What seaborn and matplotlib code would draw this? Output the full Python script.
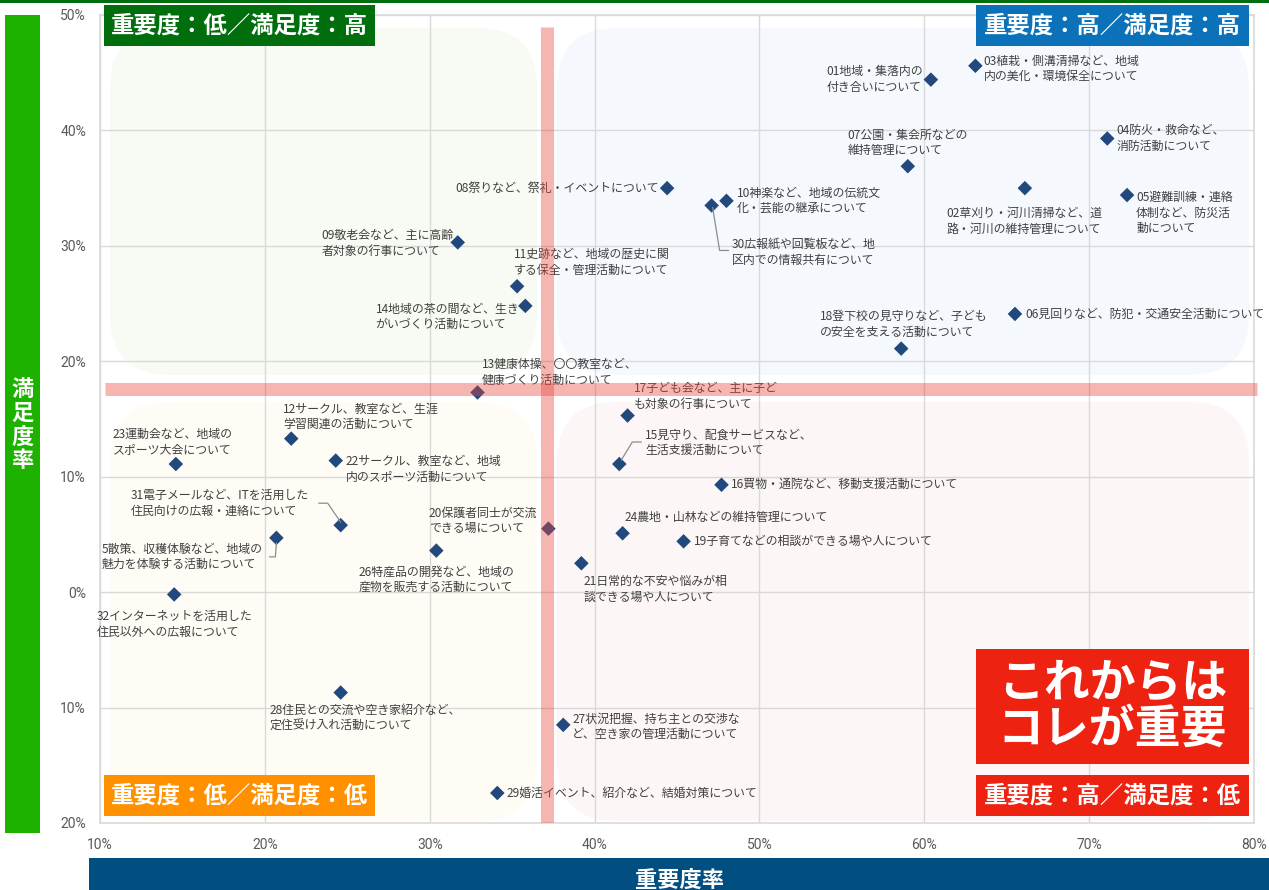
import matplotlib
matplotlib.use("Agg")
import matplotlib.pyplot as plt
import matplotlib.patches as mpatches
import matplotlib.transforms as mtransforms
from matplotlib.lines import Line2D
from matplotlib.ticker import FuncFormatter
import seaborn as sns
import pandas as pd

# ---- data: importance rate (x) and satisfaction rate (y), in percent ----
ids = ["01", "02", "03", "04", "05", "06", "07", "08", "09", "10",
       "11", "12", "13", "14", "15", "16", "17", "18", "19", "20",
       "21", "22", "23", "24", "5", "26", "27", "28", "29", "30",
       "31", "32"]

labels = [
    "01地域・集落内の\n付き合いについて",
    "02草刈り・河川清掃など、道\n路・河川の維持管理について",
    "03植栽・側溝清掃など、地域\n内の美化・環境保全について",
    "04防火・救命など、\n消防活動について",
    "05避難訓練・連絡\n体制など、防災活\n動について",
    "06見回りなど、防犯・交通安全活動について",
    "07公園・集会所などの\n維持管理について",
    "08祭りなど、祭礼・イベントについて",
    "09敬老会など、主に高齢\n者対象の行事について",
    "10神楽など、地域の伝統文\n化・芸能の継承について",
    "11史跡など、地域の歴史に関\nする保全・管理活動について",
    "12サークル、教室など、生涯\n学習関連の活動について",
    "13健康体操、〇〇教室など、\n健康づくり活動について",
    "14地域の茶の間など、生き\nがいづくり活動について",
    "15見守り、配食サービスなど、\n生活支援活動について",
    "16買物・通院など、移動支援活動について",
    "17子ども会など、主に子ど\nも対象の行事について",
    "18登下校の見守りなど、子ども\nの安全を支える活動について",
    "19子育てなどの相談ができる場や人について",
    "20保護者同士が交流\nできる場について",
    "21日常的な不安や悩みが相\n談できる場や人について",
    "22サークル、教室など、地域\n内のスポーツ活動について",
    "23運動会など、地域の\nスポーツ大会について",
    "24農地・山林などの維持管理について",
    "5散策、収穫体験など、地域の\n魅力を体験する活動について",
    "26特産品の開発など、地域の\n産物を販売する活動について",
    "27状況把握、持ち主との交渉な\nど、空き家の管理活動について",
    "28住民との交流や空き家紹介など、\n定住受け入れ活動について",
    "29婚活イベント、紹介など、結婚対策について",
    "30広報紙や回覧板など、地\n区内での情報共有について",
    "31電子メールなど、ITを活用した\n住民向けの広報・連絡について",
    "32インターネットを活用した\n住民以外への広報について",
]

importance = [60.4, 66.1, 63.1, 71.1, 72.3, 65.5, 59.0, 44.4, 31.7, 48.0,
              35.3, 21.6, 32.9, 35.8, 41.5, 47.7, 42.0, 58.6, 45.4, 37.2,
              39.2, 24.3, 14.6, 41.7, 20.7, 30.4, 38.1, 24.6, 34.1, 47.1,
              24.6, 14.5]

satisfaction = [44.4, 35.0, 45.6, 39.3, 34.4, 24.1, 36.9, 35.0, 30.3, 33.9,
                26.5, 13.3, 17.3, 24.8, 11.1, 9.3, 15.3, 21.1, 4.4, 5.5,
                2.5, 11.4, 11.1, 5.1, 4.7, 3.6, -11.5, -8.7, -17.4, 33.5,
                5.8, -0.2]

avg_importance = 37.1
avg_satisfaction = 17.6

x_ticks = [10, 20, 30, 40, 50, 60, 70, 80]
y_ticks = [-20, -10, 0, 10, 20, 30, 40, 50]

quadrant_titles = ["重要度：低／満足度：高", "重要度：高／満足度：高",
                   "重要度：低／満足度：低", "重要度：高／満足度：低"]
callout_text = "これからは\nコレが重要"
x_title = "重要度率"
y_title = "満足度率"

# ---- label layout: (offset x px, offset y px, horizontal alignment) ----
label_layout = {
    "01": (-8, 0, "right"), "02": (0, -33, "center"), "03": (8, -3, "left"),
    "04": (9, 0, "left"), "05": (9, -18, "left"), "06": (10, 0, "left"),
    "07": (-60, 23, "left"), "08": (-8, 0, "right"), "09": (-4, -1, "right"),
    "10": (10, 0, "left"), "11": (-3, 24, "left"), "12": (-8, 22, "left"),
    "13": (4, 20, "left"), "14": (-6, -11, "right"), "15": (26, 21, "left"),
    "16": (9, 0, "left"), "17": (6, 19, "left"), "18": (3, 24, "center"),
    "19": (10, 0, "left"), "20": (-11, 8, "right"), "21": (2, -26, "left"),
    "22": (10, -9, "left"), "23": (-3, 22, "center"), "24": (2, 16, "left"),
    "5": (-14, -19, "right"), "26": (0, -29, "center"), "27": (9, -2, "left"),
    "28": (-71, -26, "left"), "29": (9, 0, "left"), "30": (20, -47, "left"),
    "31": (-32, 22, "right"), "32": (0, -30, "center"),
}
# leader lines, vertices as pixel offsets from the marker
leaders = {
    "30": [(1, -2), (8, -45), (17, -45)],
    "15": [(2, 4), (13, 22), (22, 22)],
    "31": [(-22, 22), (-13, 22), (0, 3)],
    "5": [(-7, -19), (-1, -19), (0, -5)],
}

W, H = 1269, 890
sns.set_theme(style="white")
plt.rcParams["font.family"] = ["Noto Sans CJK JP", "DejaVu Sans"]

fig = plt.figure(figsize=(W / 100, H / 100), dpi=100)
fig.patch.set_facecolor("white")


def fbox(x0, y0, x1, y1):
    """pixel box (top-left origin) -> figure-fraction (x, y, w, h)"""
    return x0 / W, 1 - y1 / H, (x1 - x0) / W, (y1 - y0) / H


ax = fig.add_axes(fbox(100, 15, 1254, 823))
ax.set_xlim(10, 80)
ax.set_ylim(-20, 50)

df = pd.DataFrame({"id": ids, "label": labels,
                   "importance": importance, "satisfaction": satisfaction})

# soft rounded quadrant backgrounds (pixel space)
quad_bg = [((110, 28, 537, 375), "#f7fbf4"), ((557, 28, 1249, 375), "#f5f9fe"),
           ((110, 402, 537, 821), "#fffcf6"), ((557, 402, 1249, 821), "#fdf6f6")]
for (x0, y0, x1, y1), col in quad_bg:
    p = mpatches.FancyBboxPatch((x0, H - y1), x1 - x0, y1 - y0,
                                boxstyle="round,pad=0,rounding_size=60",
                                transform=mtransforms.IdentityTransform(),
                                facecolor=col, edgecolor="none", zorder=0.1)
    ax.add_patch(p)

sns.scatterplot(data=df, x="importance", y="satisfaction", marker="D",
                s=55, color="#22497d", edgecolor="none", ax=ax, zorder=3,
                legend=False)

ax.set_axisbelow(True)
ax.grid(True, color="#d9d9d9", linewidth=1.0)
for s in ax.spines.values():
    s.set_color("#d9d9d9")
    s.set_linewidth(1.2)
ax.set_xlim(10, 80)
ax.set_ylim(-20, 50)
ax.set_xticks(x_ticks)
ax.set_yticks(y_ticks)
fmt = FuncFormatter(lambda v, _: f"{abs(v):.0f}%")
ax.xaxis.set_major_formatter(fmt)
ax.yaxis.set_major_formatter(fmt)
ax.tick_params(axis="both", length=0, labelsize=10, labelcolor="#595959")
ax.tick_params(axis="x", pad=11)
ax.tick_params(axis="y", pad=10)
for t in ax.get_xticklabels() + ax.get_yticklabels():
    t.set_family(["Roboto", "DejaVu Sans"])
ax.set_xlabel("")
ax.set_ylabel("")

for i, lab, xv, yv in zip(ids, labels, importance, satisfaction):
    dx, dy, ha = label_layout[i]
    ax.annotate(lab, (xv, yv), xytext=(dx, dy), textcoords="offset pixels",
                ha=ha, va="center", multialignment="left", fontsize=8.6,
                color="#404040", linespacing=1.25, zorder=4,
                annotation_clip=False)
    if i in leaders:
        bx, by = ax.transData.transform((xv, yv))
        xs = [bx + ox for ox, oy in leaders[i]]
        ys = [by + oy for ox, oy in leaders[i]]
        ax.add_line(Line2D(xs, ys, transform=mtransforms.IdentityTransform(),
                           color="#8c8c8c", linewidth=0.9, zorder=3))

# average lines drawn as translucent red bands over the marks
ax.plot([avg_importance, avg_importance], [-20, 49.0], color="#e8463c",
        alpha=0.4, linewidth=9.4, solid_capstyle="butt", zorder=5)
ax.plot([10.3, 80.2], [avg_satisfaction, avg_satisfaction], color="#e8463c",
        alpha=0.4, linewidth=9.4, solid_capstyle="butt", zorder=5,
        clip_on=False)

# quadrant title boxes
title_boxes = [((104, 5, 375, 46), "#006e0c"), ((976, 5, 1249, 46), "#0b72b9"),
               ((104, 775, 375, 816), "#ff9100"), ((976, 775, 1249, 816), "#ee2211")]
for title, ((x0, y0, x1, y1), col) in zip(quadrant_titles, title_boxes):
    fig.add_artist(mpatches.Rectangle(fbox(x0, y0, x1, y1)[:2],
                                      (x1 - x0) / W, (y1 - y0) / H,
                                      transform=fig.transFigure,
                                      facecolor=col, edgecolor="none", zorder=6))
    fig.text((x0 + x1) / 2 / W, 1 - (y0 + y1) / 2 / H, title, color="white",
             fontsize=16.8, fontweight="bold", ha="center", va="center", zorder=7)

# call-out box
x0, y0, x1, y1 = 976, 649, 1249, 764
fig.add_artist(mpatches.Rectangle(fbox(x0, y0, x1, y1)[:2], (x1 - x0) / W,
                                  (y1 - y0) / H, transform=fig.transFigure,
                                  facecolor="#ee2211", edgecolor="none", zorder=6))
fig.text((x0 + x1) / 2 / W, 1 - (y0 + y1) / 2 / H, callout_text, color="white",
         fontsize=33, fontweight="bold", ha="center", va="center",
         linespacing=1.0, zorder=7)

# frame bars and axis titles
fig.add_artist(mpatches.Rectangle((0, 1 - 3 / H), 1, 3 / H, transform=fig.transFigure,
                                  facecolor="#006e0c", edgecolor="none"))
fig.add_artist(mpatches.Rectangle(fbox(5, 15, 40, 833)[:2], 35 / W, 818 / H,
                                  transform=fig.transFigure,
                                  facecolor="#1db100", edgecolor="none"))
fig.text(22.5 / W, 1 - 425 / H, "\n".join(y_title), color="white", fontsize=16,
         fontweight="bold", ha="center", va="center", linespacing=1.05)
fig.add_artist(mpatches.Rectangle(fbox(89, 858, W, H)[:2], (W - 89) / W, 32 / H,
                                  transform=fig.transFigure,
                                  facecolor="#004f80", edgecolor="none"))
fig.text(680 / W, 1 - 880 / H, x_title, color="white", fontsize=16,
         fontweight="bold", ha="center", va="center")

fig.savefig("out.png", dpi=100, facecolor="white")
